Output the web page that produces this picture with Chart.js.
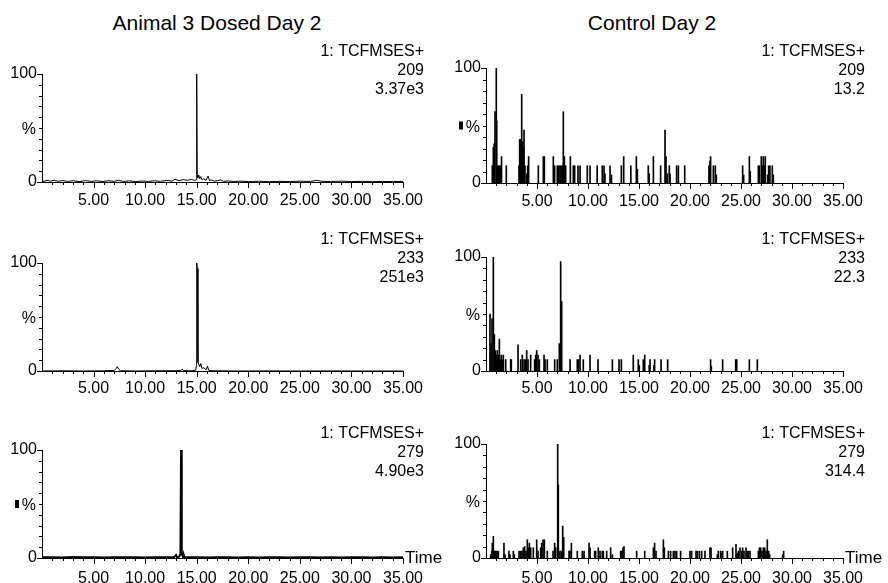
<!DOCTYPE html>
<html>
<head>
<meta charset="utf-8">
<script src="https://cdn.jsdelivr.net/npm/chart.js@4.4.1/dist/chart.umd.min.js"></script>
<style>
  html, body { margin: 0; padding: 0; background: #fff; }
  #page { position: relative; width: 888px; height: 583px; overflow: hidden; font-family: Arial, "Liberation Sans", sans-serif; }
  #page canvas { position: absolute; left: 0; top: 0; }
  .title { position: absolute; top: 11px; font-size: 21px; line-height: 24px; color: #000; transform: translateX(-50%); white-space: nowrap; }
</style>
</head>
<body>
<div id="page"></div>
<script>
// --- data ---
const columnTitles = ['Animal 3 Dosed Day 2', 'Control Day 2'];
const channelName = '1: TCFMSES+';
const massLabels = ['209', '233', '279'];
const dosedIntensity = ['3.37e3', '251e3', '4.90e3'];
const controlIntensity = ['13.2', '22.3', '314.4'];
const xTickValues = [5, 10, 15, 20, 25, 30, 35];
const yLabelValues = [0, 100];

const dosed209Time = [
  0.1, 0.5, 0.8, 1.2, 1.6, 2.0, 2.5, 3.0, 3.6, 4.2,
  4.8, 5.3, 5.9, 6.4, 7.0, 7.4, 7.9, 8.5, 9.1, 9.7,
  10.3, 10.9, 11.5, 12.1, 12.6, 12.9, 13.3, 13.7, 14.1, 14.5,
  14.8, 14.95, 15.0, 15.05, 15.12, 15.2, 15.3, 15.4, 15.5, 15.7,
  15.9, 16.1, 16.25, 16.4, 16.7, 17.0, 17.3, 17.6, 18.0, 18.6,
  19.3, 20.0, 21.0, 22.0, 23.0, 24.0, 25.0, 26.0, 26.6, 27.2,
  28.0, 29.0, 30.0, 31.0, 32.0, 33.0, 34.0, 35.0
];
const dosed209Pct = [
  0.5, 1.5, 0.8, 1.6, 0.6, 1.4, 0.5, 1.2, 0.4, 1.3,
  0.6, 1.1, 0.5, 1.2, 0.6, 1.6, 0.5, 1.0, 0.4, 0.9,
  0.5, 1.1, 0.6, 1.5, 0.8, 2.6, 1.2, 2.2, 1.6, 2.4,
  1.5, 2.0, 100, 6.5, 4.0, 6.2, 3.0, 5.0, 2.2, 3.0,
  1.4, 5.5, 1.2, 2.0, 0.8, 1.2, 2.0, 0.6, 1.0, 0.5,
  0.8, 0.4, 0.7, 0.3, 0.6, 0.4, 0.8, 0.5, 1.5, 0.6,
  0.5, 0.8, 0.4, 0.6, 0.3, 0.5, 0.4, 0.5
];

const dosed233Time = [
  0, 2, 4, 6, 7.0, 7.2, 7.3, 7.45, 7.6, 9,
  11, 13, 13.5, 13.6, 13.7, 14.5, 14.9, 14.97, 15.0, 15.07,
  15.12, 15.2, 15.3, 15.4, 15.5, 15.7, 15.9, 16.05, 16.15, 16.3,
  17, 19, 22, 25, 28, 31, 35
];
const dosed233Pct = [
  0, 0.2, 0, 0.2, 0.5, 2.5, 4.0, 1.5, 0.3, 0,
  0.2, 0.3, 0.6, 1.8, 0.4, 0.2, 0.8, 5, 100, 95,
  8, 6.5, 4, 7, 2.5, 3, 1, 4.5, 0.8, 0.3,
  0.2, 0, 0.1, 0, 0.1, 0, 0
];

const dosed279Time = [
  0, 1, 2, 3, 4, 5, 6, 7, 8, 9,
  10, 11, 12, 12.8, 13.0, 13.1, 13.3, 13.42, 13.48, 13.55,
  13.65, 13.72, 13.8, 14.2, 15, 16, 17, 18, 19, 20,
  21, 22, 23, 24, 25, 26, 27, 28, 29, 30,
  31, 32, 33, 34, 35
];
const dosed279Pct = [
  0.6, 0.8, 0.5, 0.9, 0.6, 0.7, 0.5, 0.8, 0.6, 0.7,
  0.5, 0.8, 0.6, 1.0, 2.8, 0.8, 1.2, 3.5, 100, 4.0,
  1.5, 3.8, 0.8, 0.6, 0.7, 0.5, 0.7, 0.6, 0.5, 0.7,
  0.5, 0.6, 0.7, 0.5, 0.6, 0.7, 0.5, 0.6, 0.5, 0.6,
  0.7, 0.5, 0.6, 0.5, 0.6
];

const control209Time = [
  0.62, 0.72, 0.80, 0.88, 1.01, 1.05, 1.10, 1.17, 1.25, 1.33,
  1.42, 1.52, 1.99, 3.24, 3.30, 3.40, 3.50, 3.59, 3.66, 3.73,
  3.82, 3.99, 4.08, 4.18, 5.13, 5.62, 5.72, 6.60, 6.73, 6.99,
  7.12, 7.25, 7.35, 7.45, 7.52, 7.58, 7.68, 7.75, 7.81, 8.27,
  8.56, 8.69, 9.02, 9.22, 9.93, 10.20, 10.90, 11.40, 11.57, 11.66,
  12.16, 12.30, 13.27, 13.50, 14.20, 14.74, 14.84, 15.91, 16.00, 16.41,
  17.12, 17.55, 17.65, 17.78, 17.97, 18.04, 18.69, 18.86, 19.48, 21.86,
  21.96, 22.02, 22.29, 22.48, 22.58, 25.16, 25.26, 25.82, 25.91, 26.70,
  26.80, 26.99, 27.09, 27.19, 27.29, 27.38, 27.61, 27.71, 27.84, 28.07,
  28.17
];
const control209Pct = [
  15, 31, 34, 62, 100, 54, 15, 7, 15, 15,
  15, 23, 15, 15, 38, 38, 77, 36, 31, 46,
  15, 8, 15, 23, 15, 23, 23, 23, 15, 15,
  15, 15, 15, 15, 15, 62, 23, 8, 15, 23,
  15, 15, 15, 15, 15, 15, 15, 15, 15, 8,
  15, 7, 15, 23, 15, 23, 12, 15, 8, 23,
  15, 46, 23, 8, 15, 8, 15, 15, 15, 15,
  19, 23, 15, 15, 7, 15, 7, 23, 10, 15,
  15, 23, 15, 23, 15, 23, 7, 15, 15, 15,
  7
];

const control233Time = [
  0.39, 0.49, 0.59, 0.72, 0.82, 0.92, 1.01, 1.11, 1.21, 1.31,
  1.41, 1.50, 1.60, 1.70, 1.93, 2.42, 2.48, 3.14, 3.40, 3.56,
  3.73, 3.86, 3.99, 4.12, 4.38, 4.77, 4.87, 4.97, 5.10, 5.23,
  5.69, 5.79, 6.01, 6.73, 6.99, 7.19, 7.32, 7.42, 8.24, 8.95,
  9.05, 9.22, 9.54, 10.20, 10.98, 12.39, 13.04, 13.27, 14.44, 14.93,
  15.03, 15.42, 15.56, 16.00, 16.08, 16.47, 16.53, 17.16, 17.81, 22.02,
  22.09, 23.20, 24.48, 24.58, 25.82, 26.60
];
const control233Pct = [
  50, 24, 46, 100, 32, 18, 14, 18, 14, 28,
  10, 14, 10, 14, 10, 10, 10, 23, 10, 14,
  10, 10, 18, 10, 14, 10, 14, 18, 14, 10,
  14, 10, 10, 10, 10, 24, 96, 61, 10, 10,
  10, 14, 10, 14, 10, 10, 10, 10, 14, 10,
  5, 10, 14, 5, 10, 5, 10, 10, 10, 10,
  4, 10, 10, 10, 10, 10
];

const control279Time = [
  0.46, 0.56, 0.62, 0.72, 0.82, 0.92, 1.01, 1.11, 1.21, 1.76,
  1.86, 2.25, 2.35, 2.68, 2.78, 3.24, 3.40, 3.53, 3.66, 3.79,
  3.92, 4.05, 4.15, 4.25, 4.38, 4.64, 4.97, 5.10, 5.36, 5.46,
  5.59, 5.72, 6.01, 6.57, 6.73, 6.83, 7.03, 7.09, 7.25, 7.39,
  7.52, 7.62, 8.14, 8.24, 8.37, 8.95, 9.44, 9.61, 10.10, 10.20,
  10.65, 10.75, 11.01, 11.18, 11.40, 11.50, 11.83, 12.22, 12.39, 13.20,
  13.33, 13.43, 13.53, 14.77, 15.56, 16.41, 16.53, 16.67, 17.39, 17.48,
  17.88, 18.10, 18.37, 18.53, 18.69, 19.08, 20.00, 20.16, 20.59, 20.72,
  20.92, 21.14, 21.47, 21.96, 22.06, 22.68, 22.78, 23.01, 23.10, 23.20,
  23.66, 24.18, 24.51, 24.64, 24.74, 24.90, 25.06, 25.16, 25.29, 25.49,
  25.62, 25.72, 25.88, 26.70, 26.80, 26.93, 27.06, 27.19, 27.32, 27.45,
  27.58, 27.71, 27.81, 29.08, 29.18
];
const control279Pct = [
  3, 6, 13, 19, 6, 6, 6, 6, 6, 13,
  3, 6, 3, 6, 3, 6, 6, 6, 9, 10,
  6, 16, 9, 13, 9, 9, 16, 6, 9, 13,
  16, 16, 6, 6, 13, 9, 100, 64, 6, 6,
  28, 18, 6, 6, 13, 6, 6, 6, 13, 9,
  6, 6, 9, 6, 6, 6, 6, 9, 3, 6,
  6, 9, 10, 6, 6, 9, 13, 6, 16, 9,
  6, 6, 6, 6, 6, 6, 6, 6, 6, 6,
  6, 6, 6, 9, 9, 3, 6, 6, 4, 6,
  6, 9, 12, 4, 6, 9, 6, 9, 6, 9,
  6, 6, 6, 6, 9, 9, 6, 9, 9, 6,
  16, 6, 3, 3, 6
];

// --- layout (pixels) ---
const W = 888, H = 583;
const Y_AXIS_W = 40, X_AXIS_H = 25;
// plot area [left, top, right, bottom] per row, per column
const plotAreas = [
  [[42, 74, 403, 182], [486, 68, 843, 183]],
  [[42, 263, 403, 371], [486, 257, 843, 371]],
  [[42, 450, 403, 558], [486, 444, 843, 558]]
];
const noteRight = [424, 865];
const noteBaseline = [56, 244, 438];
const xLabelDrop = [23, 22, 25];
const titleCenter = [217, 652];
const FONT = 'Arial, "Liberation Sans", sans-serif';

Chart.defaults.font.family = FONT;
Chart.defaults.color = '#000';

function decor(info) {
  return {
    id: 'panelDecor',
    afterDraw(chart) {
      const {ctx, chartArea: a} = chart;
      const x = chart.scales.x, y = chart.scales.y;
      ctx.save();
      ctx.strokeStyle = '#000';
      ctx.fillStyle = '#000';
      ctx.lineWidth = 1;
      ctx.beginPath();
      // tick marks: long at labelled values, short elsewhere
      x.ticks.forEach((t) => {
        if (t.value === 0) return;
        const len = xTickValues.includes(t.value) ? 6 : 3;
        const px = Math.round(x.getPixelForValue(t.value)) + 0.5;
        ctx.moveTo(px, a.bottom);
        ctx.lineTo(px, a.bottom + len);
      });
      y.ticks.forEach((t) => {
        const len = yLabelValues.includes(t.value) ? 5 : 3;
        const py = Math.round(y.getPixelForValue(t.value)) + 0.5;
        ctx.moveTo(a.left - len, py);
        ctx.lineTo(a.left, py);
      });
      ctx.stroke();

      ctx.font = '16px ' + FONT;
      ctx.textBaseline = 'alphabetic';
      ctx.textAlign = 'center';
      x.ticks.forEach((t) => {
        if (!xTickValues.includes(t.value)) return;
        ctx.fillText(t.value.toFixed(2), x.getPixelForValue(t.value), a.bottom + info.labelDrop);
      });

      ctx.textAlign = 'right';
      info.notes.forEach((s, i) => ctx.fillText(s, info.noteX, info.noteY + i * 19));

      const mid = (a.top + a.bottom) / 2;
      ctx.fillText('%', a.left - 6, mid + 6);
      if (info.marker) {
        ctx.fillRect(a.left - 27, mid - 4, 4, 8);
      }
      if (info.timeLabel) {
        ctx.textAlign = 'left';
        ctx.font = '17px ' + FONT;
        ctx.fillText('Time', a.right + 2, a.bottom + 5);
      }
      ctx.restore();
    }
  };
}

function makePanel(row, col, kind, times, pcts, intensity, marker) {
  const page = document.getElementById('page');
  const canvas = document.createElement('canvas');
  canvas.width = W;
  canvas.height = H;
  page.appendChild(canvas);

  const [l, t, r, b] = plotAreas[row][col];
  const points = times.map((x, i) => ({x, y: pcts[i]}));
  const dataset = kind === 'line'
    ? {data: points, borderColor: '#000', borderWidth: row === 2 ? 2 : 1, pointRadius: 0, tension: 0, fill: false}
    : {data: points, backgroundColor: '#000', borderWidth: 0, barThickness: 1, grouped: false};

  new Chart(canvas, {
    type: kind,
    data: {datasets: [dataset]},
    options: {
      responsive: false,
      animation: false,
      events: [],
      layout: {padding: {left: l - Y_AXIS_W, top: t, right: W - r, bottom: H - b - X_AXIS_H}},
      plugins: {legend: {display: false}, tooltip: {enabled: false}},
      scales: {
        x: {
          type: 'linear',
          min: 0,
          max: 35,
          offset: false,
          afterFit(scale) { scale.height = X_AXIS_H; },
          border: {display: true, color: '#000', width: 1},
          grid: {display: false, drawTicks: false, offset: false},
          ticks: {stepSize: 1, maxTicksLimit: 100, autoSkip: false, display: false}
        },
        y: {
          min: 0,
          max: 100,
          afterFit(scale) { scale.width = Y_AXIS_W; },
          border: {display: true, color: '#000', width: 1},
          grid: {display: false, drawTicks: false},
          ticks: {
            stepSize: 10,
            maxTicksLimit: 100,
            autoSkip: false,
            padding: 5,
            font: {size: 16},
            callback: (v) => (yLabelValues.includes(v) ? String(v) : '')
          }
        }
      }
    },
    plugins: [decor({
      notes: [channelName, massLabels[row], intensity],
      noteX: noteRight[col],
      noteY: noteBaseline[row],
      labelDrop: xLabelDrop[row],
      marker,
      timeLabel: row === 2
    })]
  });
}

columnTitles.forEach((text, i) => {
  const d = document.createElement('div');
  d.className = 'title';
  d.style.left = titleCenter[i] + 'px';
  d.textContent = text;
  document.getElementById('page').appendChild(d);
});

makePanel(0, 0, 'line', dosed209Time, dosed209Pct, dosedIntensity[0], false);
makePanel(1, 0, 'line', dosed233Time, dosed233Pct, dosedIntensity[1], false);
makePanel(2, 0, 'line', dosed279Time, dosed279Pct, dosedIntensity[2], true);
makePanel(0, 1, 'bar', control209Time, control209Pct, controlIntensity[0], true);
makePanel(1, 1, 'bar', control233Time, control233Pct, controlIntensity[1], false);
makePanel(2, 1, 'bar', control279Time, control279Pct, controlIntensity[2], false);
</script>
</body>
</html>
